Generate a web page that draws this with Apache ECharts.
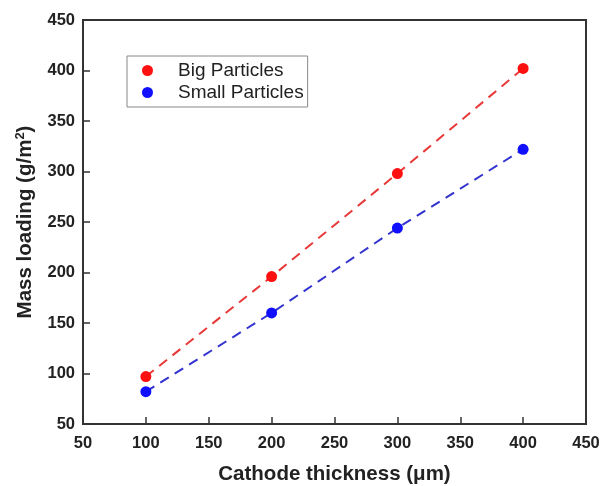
<!DOCTYPE html>
<html>
<head>
<meta charset="utf-8">
<script src="https://cdn.jsdelivr.net/npm/echarts@6/dist/echarts.min.js"></script>
<style>html,body{margin:0;padding:0;background:#fff;}#c{width:601px;height:486px;}</style>
</head>
<body>
<div id="c"></div>
<script>
const thickness = [100, 200, 300, 400];
const bigParticles = [97, 196, 298, 402];
const smallParticles = [82, 160, 244, 322];
const seriesNames = ['Big Particles', 'Small Particles'];

const chart = echarts.init(document.getElementById('c'));
const font = 'Liberation Sans, Arial, sans-serif';
function pairs(xs, ys){ return xs.map((x,i)=>[x, ys[i]]); }
function mk(name, ys, color, lineColor){
  return {
    name: name, type: 'line', data: pairs(thickness, ys),
    symbol: 'circle', symbolSize: 11,
    itemStyle: {color: color},
    lineStyle: {color: lineColor, width: 2, type: [10, 7]},
    z: 3
  };
}
const axisCommon = {
  axisLine: {show: true, onZero: false, lineStyle: {color: '#333', width: 2}},
  axisTick: {show: true, inside: true, length: 7, lineStyle: {color: '#333', width: 1.5}},
  splitLine: {show: false},
  axisLabel: {color: '#222', fontFamily: font, fontWeight: 'bold', fontSize: 16.5},
  nameTextStyle: {color: '#222', fontFamily: font, fontWeight: 'bold', fontSize: 20.5}
};
chart.setOption({
  animation: false,
  backgroundColor: '#fff',
  grid: {left: 83, top: 20, right: 15, bottom: 62, containLabel: false, outerBoundsMode: 'none',
         show: true, borderColor: '#333', borderWidth: 2, backgroundColor: 'transparent'},
  legend: {
    left: 127, top: 56, orient: 'vertical', icon: 'circle', itemWidth: 11, itemHeight: 11, itemGap: 3,
    padding: [5, 4, 5, 15], borderColor: '#888', borderWidth: 1,
    textStyle: {fontFamily: font, fontSize: 19, color: '#222', padding: [0, 0, 0, 20]},
    data: seriesNames
  },
  xAxis: Object.assign({}, axisCommon, {
    type: 'value', min: 50, max: 450, interval: 50,
    name: 'Cathode thickness (μm)', nameLocation: 'middle', nameGap: 40,
    axisLabel: Object.assign({}, axisCommon.axisLabel, {margin: 11})
  }),
  yAxis: Object.assign({}, axisCommon, {
    type: 'value', min: 50, max: 450, interval: 50,
    name: '{t|Mass loading (g/m}{s|2}{t|)}', nameLocation: 'middle', nameGap: 47,
    axisLabel: Object.assign({}, axisCommon.axisLabel, {margin: 8}),
    nameTextStyle: {
      rich: {
        t: {color: '#222', fontFamily: font, fontWeight: 'bold', fontSize: 20.5},
        s: {color: '#222', fontFamily: font, fontWeight: 'bold', fontSize: 13, verticalAlign: 'top', padding: [0,0,9,0]}
      }
    }
  }),
  series: [
    mk(seriesNames[0], bigParticles, '#ff1010', '#e83838'),
    mk(seriesNames[1], smallParticles, '#1010ff', '#3333d0')
  ]
});
</script>
</body>
</html>
